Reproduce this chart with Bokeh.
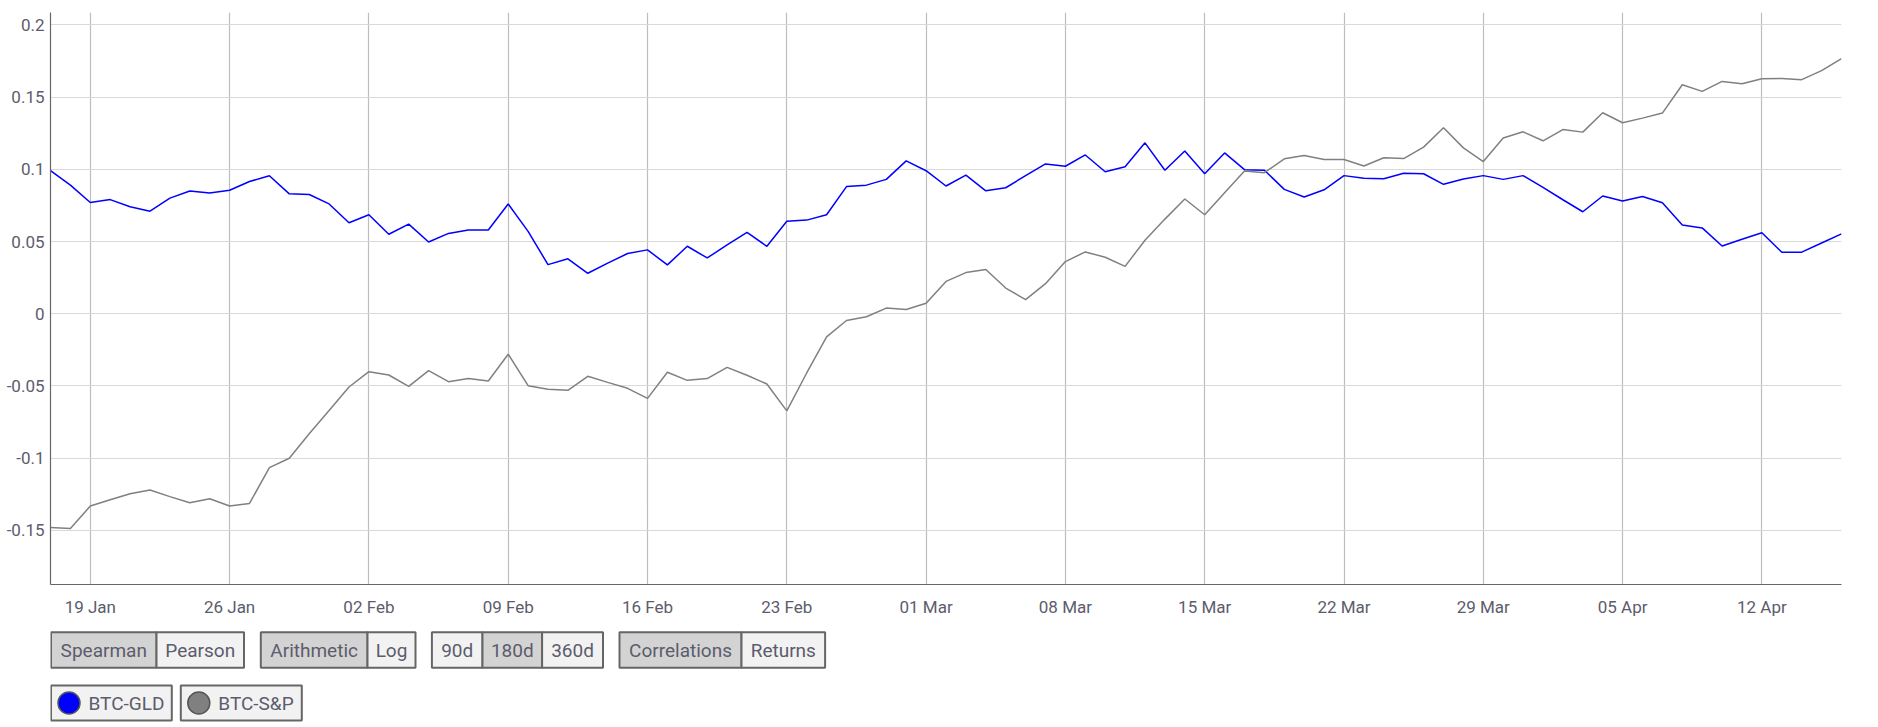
import pandas as pd
from bokeh.plotting import figure
from bokeh.models import Range1d, FixedTicker, DatetimeTickFormatter, CustomJSTickFormatter
from bokeh.layouts import column
from bokeh.embed import file_html
from bokeh.resources import INLINE
from bokeh.core.properties import value

# ---------------- data ----------------
dates = pd.date_range("2020-01-17", "2020-04-16", freq="D")

btc_gld = [
    0.099, 0.089, 0.077, 0.079, 0.074, 0.071, 0.080, 0.085, 0.0835, 0.0855,
    0.0915, 0.0955, 0.083, 0.0825, 0.076,
    0.063, 0.0685, 0.055, 0.062, 0.0497, 0.0556, 0.058, 0.058, 0.076, 0.057,
    0.034, 0.038, 0.028, 0.035, 0.0417, 0.0442, 0.0338, 0.0467, 0.0386, 0.0476,
    0.0563, 0.0467, 0.064, 0.0648, 0.0685, 0.088, 0.089, 0.093, 0.1058,
    0.099, 0.0884, 0.096, 0.0851, 0.0872, 0.0956, 0.1037, 0.1021, 0.1099, 0.0983,
    0.1018, 0.1183, 0.0993, 0.1127, 0.0969, 0.1113, 0.0997, 0.0993, 0.0861, 0.0808,
    0.0858, 0.0956, 0.0938, 0.0934, 0.0972, 0.0969, 0.0896, 0.0933, 0.0956, 0.093,
    0.0956,
    0.0875, 0.0789, 0.0706, 0.0815, 0.078, 0.0812, 0.0768, 0.0615, 0.0594, 0.0469,
    0.0516, 0.056, 0.0426, 0.0426, 0.049, 0.0553,
]

btc_sp = [
    -0.1479, -0.1486, -0.1331, -0.1287, -0.1246, -0.122, -0.1266, -0.1308, -0.128, -0.1331,
    -0.1313, -0.1065, -0.100, -0.083, -0.067,
    -0.0507, -0.0401, -0.0424, -0.0503, -0.0394, -0.047, -0.0448, -0.0466, -0.028, -0.0498,
    -0.0523, -0.053, -0.0433, -0.0475, -0.0516, -0.0586, -0.0405, -0.0461, -0.0449, -0.0371,
    -0.0426, -0.0486, -0.0672, -0.041, -0.016, -0.0047, -0.0021, 0.0039, 0.003,
    0.0072, 0.0224, 0.0285, 0.0306, 0.0178, 0.0098, 0.0208, 0.0361, 0.0428, 0.0391,
    0.0328, 0.0509, 0.0655, 0.0794, 0.0685, 0.0838, 0.0988, 0.0976, 0.1072, 0.1095,
    0.1067, 0.1067, 0.1023, 0.108, 0.1074, 0.1153, 0.1287, 0.1148, 0.1053, 0.1217,
    0.1259,
    0.1197, 0.1275, 0.1257, 0.1391, 0.1322, 0.1354, 0.1389, 0.1585, 0.1539, 0.1608,
    0.1592, 0.1627, 0.1629, 0.162, 0.1683, 0.1766,
]

x_tick_dates = ["2020-01-19", "2020-01-26", "2020-02-02", "2020-02-09", "2020-02-16",
                "2020-02-23", "2020-03-01", "2020-03-08", "2020-03-15", "2020-03-22",
                "2020-03-29", "2020-04-05", "2020-04-12"]
y_ticks = [-0.15, -0.1, -0.05, 0, 0.05, 0.1, 0.15, 0.2]

series_names = ["BTC-GLD", "BTC-S&P"]
series_colors = ["#0000ff", "#808080"]

button_groups = [["Spearman", "Pearson"], ["Arithmetic", "Log"],
                 ["90d", "180d", "360d"], ["Correlations", "Returns"]]
button_selected = [[True, False], [True, False], [False, True, False], [True, False]]

# ---------------- styles / layout ----------------
TEXT_COLOR = "#5c5c6c"
FONT = "Roboto"
FRAME_W, FRAME_H = 1791, 572
BL, BR, BT, BB = 50, 10, 12, 40
FIG_W = BL + FRAME_W + BR
H1 = BT + FRAME_H + BB
H2 = 727 - H1

# ---------------- main chart ----------------
p = figure(x_axis_type="datetime", output_backend="svg", toolbar_location=None,
           frame_width=FRAME_W, frame_height=FRAME_H,
           min_border_left=BL, min_border_right=BR, min_border_top=BT, min_border_bottom=BB,
           x_range=Range1d(dates[0], dates[-1]), y_range=Range1d(-0.1874, 0.2085))
p.outline_line_color = None
p.background_fill_color = "white"
p.border_fill_color = "white"

tick_ms = [pd.Timestamp(d).value / 1e6 for d in x_tick_dates]
p.xaxis.ticker = FixedTicker(ticks=tick_ms)
fmt = "%d %b"
p.xaxis.formatter = DatetimeTickFormatter(days=fmt, months=fmt, hours=fmt, hourmin=fmt,
                                          years=fmt, context=None)
p.yaxis.ticker = FixedTicker(ticks=y_ticks)
p.yaxis.formatter = CustomJSTickFormatter(code="return String(Math.round(tick*10000)/10000);")

for ax in (p.xaxis[0], p.yaxis[0]):
    ax.axis_line_color = "#666666"
    ax.axis_line_width = 1.2
    ax.major_tick_line_color = None
    ax.minor_tick_line_color = None
    ax.major_tick_out = 0
    ax.major_tick_in = 0
    ax.major_label_text_font = FONT
    ax.major_label_text_font_size = "17px"
    ax.major_label_text_color = TEXT_COLOR
p.xaxis.major_label_standoff = 12
p.yaxis.major_label_standoff = 6

p.xgrid.grid_line_color = "#bdbdbd"
p.xgrid.grid_line_width = 1.2
p.ygrid.grid_line_color = "#d9d9d9"
p.ygrid.grid_line_width = 1

p.line(dates, btc_gld, line_color=series_colors[0], line_width=1.5)
p.line(dates, btc_sp, line_color=series_colors[1], line_width=1.5)

# ---------------- buttons + legend (page pixel coordinates) ----------------
p2 = figure(output_backend="svg", toolbar_location=None,
            frame_width=FRAME_W, frame_height=H2,
            min_border_left=BL, min_border_right=BR, min_border_top=0, min_border_bottom=0,
            x_range=Range1d(BL, BL + FRAME_W), y_range=Range1d(H1 + H2, H1),
            x_axis_location=None, y_axis_location=None)
p2.grid.visible = False
p2.outline_line_color = None
p2.background_fill_color = "white"
p2.border_fill_color = "white"

dx = 2.0  # keep the left borders inside the drawing area
button_edges = [[48.5, 154, 241.5], [258.3, 365, 413], [429.4, 480, 539.6, 600.5], [617, 739, 822.6]]
btn_top, btn_bot = 631.7, 667.3

L, R, T, B, F, TX, TL = [], [], [], [], [], [], []
for labels, sel, edges in zip(button_groups, button_selected, button_edges):
    for i, lab in enumerate(labels):
        L.append(edges[i] + dx)
        R.append(edges[i + 1] + dx)
        T.append(btn_top)
        B.append(btn_bot)
        F.append("#d3d3d3" if sel[i] else "#f2f2f2")
        TX.append((edges[i] + edges[i + 1]) / 2 + dx)
        TL.append(lab)
p2.quad(left=L, right=R, top=T, bottom=B, fill_color=F, line_color="#666666", line_width=2)
p2.text(x=TX, y=[(btn_top + btn_bot) / 2 + 0.5] * len(TX), text=TL, text_font=value(FONT),
        text_font_size="19px", text_color=TEXT_COLOR, text_align="center", text_baseline="middle")

leg_left = [48.5, 178.3]
leg_right = [169.3, 299.3]
leg_top, leg_bot = 685.0, 720.0
leg_mid = (leg_top + leg_bot) / 2
p2.quad(left=[v + dx for v in leg_left], right=[v + dx for v in leg_right],
        top=[leg_top] * 2, bottom=[leg_bot] * 2, fill_color="#f2f2f2",
        line_color="#666666", line_width=2)
p2.scatter(x=[v + 18 + dx for v in leg_left], y=[leg_mid] * 2, marker="circle", size=22,
           fill_color=series_colors, line_color="#555555", line_width=1.5)
p2.text(x=[v + 37.5 + dx for v in leg_left], y=[leg_mid + 0.5] * 2, text=series_names,
        text_font=value(FONT), text_font_size="19px", text_color=TEXT_COLOR,
        text_align="left", text_baseline="middle")

layout = column(p, p2, spacing=0)
open("out.html", "w").write(file_html(layout, INLINE))
